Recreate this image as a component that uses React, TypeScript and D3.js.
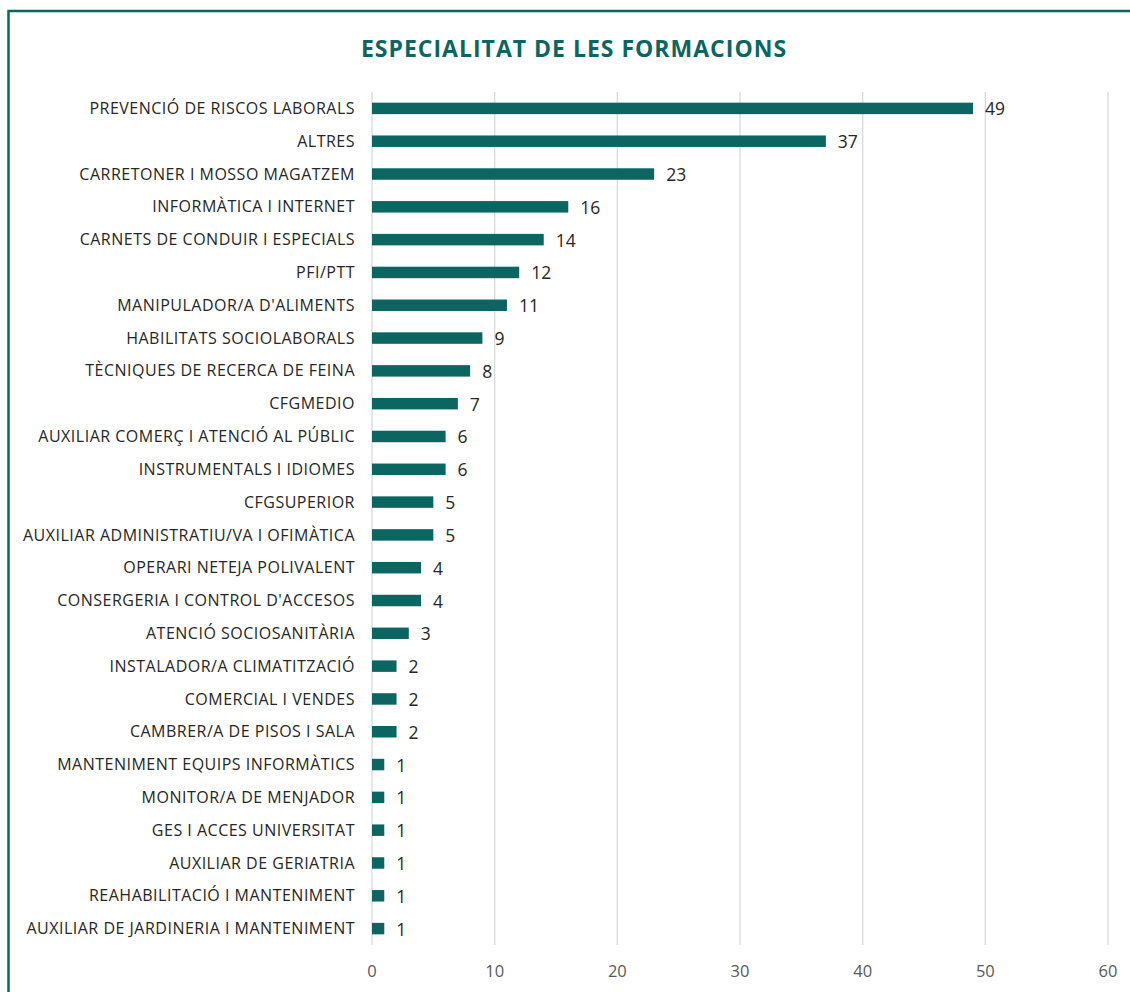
import React from "react";
import * as d3 from "d3";

const categories = [
  "PREVENCIÓ DE RISCOS LABORALS",
  "ALTRES",
  "CARRETONER I MOSSO MAGATZEM",
  "INFORMÀTICA I INTERNET",
  "CARNETS DE CONDUIR I ESPECIALS",
  "PFI/PTT",
  "MANIPULADOR/A D'ALIMENTS",
  "HABILITATS SOCIOLABORALS",
  "TÈCNIQUES DE RECERCA DE FEINA",
  "CFGMEDIO",
  "AUXILIAR COMERÇ I ATENCIÓ AL PÚBLIC",
  "INSTRUMENTALS I IDIOMES",
  "CFGSUPERIOR",
  "AUXILIAR ADMINISTRATIU/VA I OFIMÀTICA",
  "OPERARI NETEJA POLIVALENT",
  "CONSERGERIA I CONTROL D'ACCESOS",
  "ATENCIÓ SOCIOSANITÀRIA",
  "INSTALADOR/A CLIMATITZACIÓ",
  "COMERCIAL I VENDES",
  "CAMBRER/A DE PISOS I SALA",
  "MANTENIMENT EQUIPS INFORMÀTICS",
  "MONITOR/A DE MENJADOR",
  "GES I ACCES UNIVERSITAT",
  "AUXILIAR DE GERIATRIA",
  "REAHABILITACIÓ I MANTENIMENT",
  "AUXILIAR DE JARDINERIA I MANTENIMENT",
];

const values = [49, 37, 23, 16, 14, 12, 11, 9, 8, 7, 6, 6, 5, 5, 4, 4, 3, 2, 2, 2, 1, 1, 1, 1, 1, 1];

const xTicks = [0, 10, 20, 30, 40, 50, 60];

const title = "ESPECIALITAT DE LES FORMACIONS";

const TEAL = "#0b6662";
const FONT = "'Open Sans', 'Liberation Sans', sans-serif";

export default function App() {
  const W = 1130;
  const H = 992;
  const x = d3.scaleLinear().domain([0, 60]).range([372, 1108]);
  const y = d3
    .scaleBand<string>()
    .domain(categories)
    .range([92, 945])
    .paddingInner(0.65)
    .paddingOuter(0.325);

  return (
    <svg
      width={W}
      height={H}
      style={{ position: "absolute", left: 0, top: 0, background: "#fff" }}
      fontFamily={FONT}
    >
      <rect x={0} y={0} width={W} height={H} fill="#fff" />
      <rect
        x={8.5}
        y={11}
        width={W + 20}
        height={H + 20}
        fill="none"
        stroke={TEAL}
        strokeWidth={2.5}
      />
      <text
        x={574}
        y={57}
        textAnchor="middle"
        fontSize={23}
        letterSpacing={1}
        fontWeight={700}
        fill={TEAL}
      >
        {title}
      </text>
      {xTicks.map((t) => (
        <g key={t}>
          <line
            x1={x(t)}
            x2={x(t)}
            y1={92}
            y2={945}
            stroke="#d9d9d9"
            strokeWidth={1.3}
          />
          <text
            x={x(t)}
            y={977}
            textAnchor="middle"
            fontSize={16.5}
            fill="#595959"
          >
            {t}
          </text>
        </g>
      ))}
      {categories.map((c, i) => {
        const yy = y(c)!;
        const bw = y.bandwidth();
        const cy = yy + bw / 2;
        return (
          <g key={c}>
            <rect
              x={x(0)}
              y={yy}
              width={x(values[i]) - x(0)}
              height={bw}
              fill={TEAL}
            />
            <text
              x={355}
              y={cy}
              dy="0.35em"
              textAnchor="end"
              fontSize={16}
              letterSpacing={0.5}
              fill="#262626"
            >
              {c}
            </text>
            <text
              x={x(values[i]) + 12}
              y={cy}
              dy="0.4em"
              fontSize={17.5}
              fill="#262626"
            >
              {values[i]}
            </text>
          </g>
        );
      })}
    </svg>
  );
}
